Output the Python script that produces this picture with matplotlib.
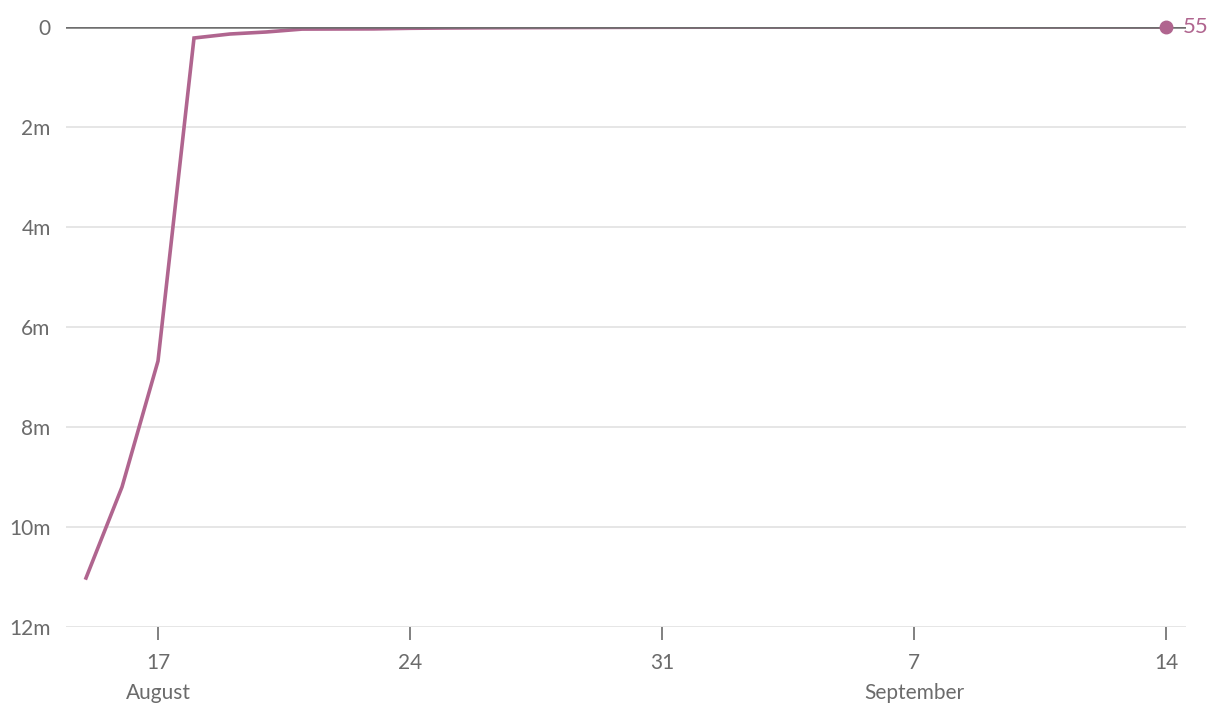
import numpy as np
import pandas as pd
import matplotlib
matplotlib.use("Agg")
import matplotlib.pyplot as plt
import matplotlib.dates as mdates

dates = pd.date_range("2024-08-15", "2024-09-14", freq="D")
values = [11020000, 9200000, 6680000, 220000, 140000, 100000, 42000, 40000, 38000,
          26000, 20000, 16000, 13000, 11000, 9000, 7000, 5000, 4200, 3600, 3000,
          2500, 2100, 1800, 1500, 1200, 1000, 800, 600, 400, 200, 55]

y_ticks = [0, 2e6, 4e6, 6e6, 8e6, 10e6, 12e6]
y_labels = ["0", "2m", "4m", "6m", "8m", "10m", "12m"]
x_ticks = ["2024-08-17", "2024-08-24", "2024-08-31", "2024-09-07", "2024-09-14"]
x_labels = ["17", "24", "31", "7", "14"]
months = [("2024-08-17", "August"), ("2024-09-07", "September")]

line_col = "#b0658f"
text_col = "#6b6b6b"

plt.rcParams["font.family"] = ["Lato", "DejaVu Sans"]

fig = plt.figure(figsize=(12.2, 7.2), dpi=100)
ax = fig.add_axes([66 / 1220, 1 - 627 / 720, 1120 / 1220, 600 / 720])

ax.plot(dates, values, color=line_col, lw=2.6, zorder=3, solid_joinstyle="miter")
ax.axhline(0, color="#6e6e6e", lw=1.8, zorder=4)
ax.plot(dates[-1], values[-1], "o", color=line_col, ms=9, zorder=5, clip_on=False)
ax.annotate(str(values[-1]), (dates[-1], values[-1]), xytext=(12, 0),
            textcoords="offset points", color=line_col, fontsize=16,
            va="center", ha="left", annotation_clip=False)

ax.set_ylim(12e6, 0)
ax.set_xlim(pd.Timestamp("2024-08-14 10:40"), pd.Timestamp("2024-09-14 13:20"))
ax.set_yticks(y_ticks)
ax.set_yticklabels(y_labels)
ax.set_xticks(pd.to_datetime(x_ticks))
ax.set_xticklabels(x_labels)

ax.grid(axis="y", color="#e2e2e2", lw=1.2, zorder=0)
for s in ax.spines.values():
    s.set_visible(False)
ax.tick_params(axis="y", length=0, pad=11, labelsize=15, labelcolor=text_col)
ax.tick_params(axis="x", length=9, width=1.2, color=text_col, pad=10,
               labelsize=15, labelcolor=text_col)

for d, m in months:
    ax.annotate(m, (mdates.date2num(pd.Timestamp(d)), 0), xycoords=("data", "axes fraction"),
                xytext=(0, -55), textcoords="offset points", ha="center", va="bottom",
                fontsize=15, color=text_col, annotation_clip=False)

fig.savefig("out.png", dpi=100)
